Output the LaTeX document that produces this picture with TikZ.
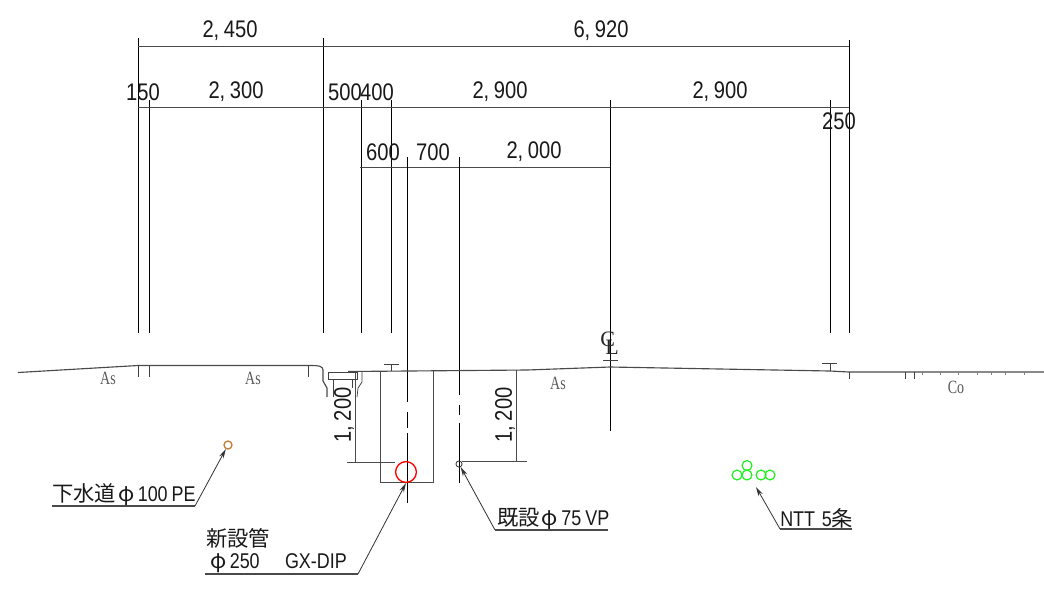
\documentclass[tikz,border=0pt]{standalone}
\usepackage{fontspec}
\usetikzlibrary{arrows.meta}
\setmainfont[FakeStretch=0.84]{Liberation Sans}
\newfontfamily\cjk{Noto Sans CJK JP}
\newfontfamily\serifnarrow[FakeStretch=0.75]{Liberation Serif}
\newfontfamily\clfont{Liberation Serif}
\newcommand{\cm}[2]{#1,\kern3.4pt #2}
\newcommand{\phisym}{\kern1.5pt{\cjk φ}\kern2.5pt}
\definecolor{linegray}{HTML}{4A4A4A}
\definecolor{pipegreen}{HTML}{22EE22}
\definecolor{pipebrown}{HTML}{C08038}
\tikzset{
  x=0.75pt,y=-0.75pt,
  dimline/.style={draw=linegray,line width=0.72pt},
  ext/.style={draw=black,line width=0.72pt},
  ground/.style={draw=linegray,line width=0.85pt},
  thin part/.style={draw=black!75,line width=0.55pt},
  lbl/.style={inner sep=0pt,text=black!90,font=\fontsize{18pt}{18pt}\selectfont},
  cjklbl/.style={inner sep=0pt,anchor=west,text=black!90,font=\fontsize{16pt}{16pt}\selectfont},
  surf/.style={inner sep=0pt,text=black!65,font=\fontsize{14pt}{14pt}\serifnarrow},
  point/.style={draw=black!80,line width=0.6pt,-{Stealth[length=7pt,width=3.6pt]}},
  under/.style={draw=linegray,line width=0.9pt},
  ntt/.style={circle,draw=pipegreen,line width=0.9pt,minimum size=7.4pt,inner sep=0pt},
}
\begin{document}
\begin{tikzpicture}
\useasboundingbox (0,0) rectangle (1044,594);
\fill[white] (0,0) rectangle (1044,594);
% extension lines
\foreach \nm/\xx/\ya/\yb in {a/138/38/333,b/323/38/333,c/849/40/333,d/149/100/333,e/361/100/333,f/391/100/333,g/830/100/333,h/610/100/431}
  {\draw[ext] (\xx,\ya) -- (\xx,\yb);}
% dimension lines
\draw[dimline] (138,46) -- (849,46);
\draw[dimline] (138,107) -- (849,107);
\draw[dimline] (360,167) -- (610,167);
% pipe centre lines
\draw[ext] (407,157) -- (407,402) (407,412) -- (407,428) (407,433) -- (407,503);
\draw[ext] (459,157) -- (459,395) (459,405) -- (459,415) (459,423) -- (459,483);
% ground
\draw[ground] (18,372.5) -- (138,365.5) -- (312,365.5) .. controls (318,365.5) and (323,366) .. (323,370) -- (323,381) -- (327,388) -- (327,397);
\draw[ground] (348,371.5) -- (527,370) -- (610,367) -- (830,371) -- (849,372) -- (1044,372);
% kerb
\draw[thin part] (328,372) rectangle (357,379.5);
\draw[thin part] (333,379.5) -- (333,397) (352,379.5) -- (352,388);
\draw[thin part] (362,372) -- (362,382) -- (358,388) -- (357,397);
% ticks
\foreach \xx in {138,149,308} {\draw[thin part] (\xx,365.5) -- (\xx,377);}
\foreach \xx in {849,905.5,914.5} {\draw[thin part] (\xx,372) -- (\xx,379);}
\foreach \xx in {922,940,958,977,991,1005,1024} {\draw[draw=black!50,line width=0.4pt] (\xx,372) -- (\xx,375);}
% T marks
\draw[thin part] (384,364) -- (399,364) (391,364) -- (391,371);
\draw[thin part] (822,363) -- (837,363) (830,363) -- (830,371);
\draw[thin part] (603,360) -- (618,360);
% trench
\draw[dimline] (380,371) -- (380,482) -- (433,482) -- (433,371);
% depth dims
\draw[dimline] (355,371) -- (355,462) (347,462) -- (395,462);
\draw[dimline] (516,370) -- (516,461) (462,461) -- (527,461);
% pipes
\node[circle,draw=red,line width=1pt,minimum size=15.6pt,inner sep=0pt] (newpipe) at (406,472) {};
\node[circle,draw=black!80,line width=0.6pt,minimum size=4.6pt,inner sep=0pt] (oldpipe) at (459,464) {};
\node[circle,draw=pipebrown,line width=1pt,minimum size=6pt,inner sep=0pt] (sewer) at (228,445) {};
\node[ntt] (n1) at (737,475) {};
\node[ntt] (n2) at (747,475) {};
\node[ntt] (n3) at (747,465.5) {};
\node[ntt] (n4) at (761,475) {};
\node[ntt] (n5) at (770,475) {};
\coordinate (nttaim) at (756,487);
% dimension text
\node[lbl] (t1) at (230,31) {\cm{2}{450}};
\node[lbl] (t2) at (601,31) {\cm{6}{920}};
\node[lbl] (t3) at (143,92) {150};
\node[lbl] (t4) at (236,92) {\cm{2}{300}};
\node[lbl] (t5) at (345,92) {500};
\node[lbl] (t6) at (377,92) {400};
\node[lbl] (t7) at (500,92) {\cm{2}{900}};
\node[lbl] (t8) at (720,92) {\cm{2}{900}};
\node[lbl] (t9) at (839,121) {250};
\node[lbl] (t10) at (383,152) {600};
\node[lbl] (t11) at (433,152) {700};
\node[lbl] (t12) at (534,152) {\cm{2}{000}};
\node[lbl,rotate=90] (t13) at (344,415) {\cm{1}{200}};
\node[lbl,rotate=90] (t14) at (505,415) {\cm{1}{200}};
% surface text
\node[surf] (s1) at (108,378) {As};
\node[surf] (s2) at (253,378) {As};
\node[surf] (s3) at (558,383) {As};
\node[surf] (s4) at (956,387) {Co};
% centre line mark
\node[inner sep=0pt,anchor=base west,text=black!85,font=\fontsize{16.5pt}{16.5pt}\clfont] (cl) at (600,346) {\rlap{C}\raisebox{-6pt}{\kern3.8pt L}};
% callouts
\node[cjklbl] (l1) at (52,495) {{\cjk 下水道}\phisym 100\hspace{3pt}PE};
\coordinate (l1a) at (52,506); \coordinate (l1b) at (195,506);
\draw[under] (l1a) -- (l1b);
\draw[point] (l1b) -- (sewer);
\node[cjklbl] (l2) at (206,538) {\cjk 新設管};
\node[cjklbl] (l3) at (208,563) {\phisym 250\hspace{19pt}GX-DIP};
\coordinate (l3a) at (205,574); \coordinate (l3b) at (358,574);
\draw[under] (l3a) -- (l3b);
\draw[point] (l3b) -- (newpipe.south);
\node[cjklbl] (l4) at (497,519) {{\cjk 既設}\phisym 75\hspace{3pt}VP};
\coordinate (l4a) at (495,530); \coordinate (l4b) at (608,530);
\draw[under] (l4a) -- (l4b);
\draw[point] (l4a) -- (oldpipe);
\node[cjklbl] (l5) at (780,518) {NTT\hspace{5pt}5{\cjk 条}};
\coordinate (l5a) at (780,529); \coordinate (l5b) at (852,529);
\draw[under] (l5a) -- (l5b);
\draw[point] (l5a) -- (nttaim);
\end{tikzpicture}
\end{document}
